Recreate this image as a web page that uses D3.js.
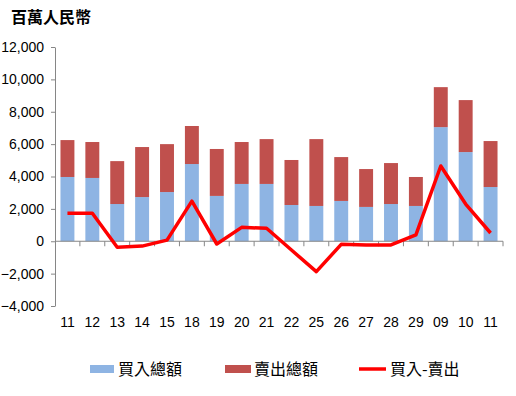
<!DOCTYPE html>
<html><head><meta charset="utf-8">
<script src="https://cdn.jsdelivr.net/npm/d3@7"></script>
<style>body{margin:0;background:#fff;}svg{display:block;}</style>
</head><body>
<svg id="c" width="516" height="396"></svg>
<script>
const categories = ["11","12","13","14","15","18","19","20","21","22","25","26","27","28","29","09","10","11"];
const buyTotal  = [3970,3910,2300,2730,3040,4770,2800,3540,3540,2240,2180,2490,2120,2300,2180,7050,5510,3350];
const sellTotal = [2280,2220,2650,3090,2960,2350,2900,2590,2770,2780,4130,2710,2340,2530,1790,2470,3210,2840];
const netFlow   = [1730,1730,-370,-300,70,2480,-170,860,800,-540,-1880,-190,-230,-230,390,4650,2300,510];
const yTicks = [-4000,-2000,0,2000,4000,6000,8000,10000,12000];
const seriesNames = ["買入總額","賣出總額","買入-賣出"];
const colors = ["#8EB4E3","#C0504D","#FF0000"];

const svg = d3.select("#c");
const pLeft = 55, pRight = 503, pTop = 47, pBottom = 306;
const idx = categories.map((d,i)=>i);
const x = d3.scaleBand().domain(idx).range([pLeft,pRight]).paddingInner(0.44).paddingOuter(0.22);
const y = d3.scaleLinear().domain([-4000,12000]).range([pBottom,pTop]);
const fmt = d3.format(",");
const axisColor = "#868686";
const numFont = "'Liberation Sans', Arial, sans-serif";
const cjk = "'Noto Sans CJK TC','Noto Sans CJK SC',sans-serif";

// title
svg.append("text").attr("x",11).attr("y",23).attr("font-family",cjk).attr("font-weight","bold")
  .attr("font-size",16).attr("fill","#000").text("百萬人民幣");

// bars
const g = svg.append("g");
g.selectAll("rect.buy").data(idx).join("rect").attr("class","buy")
  .attr("x",i=>x(i)).attr("width",x.bandwidth())
  .attr("y",i=>y(buyTotal[i])).attr("height",i=>y(0)-y(buyTotal[i]))
  .attr("fill",colors[0]);
g.selectAll("rect.sell").data(idx).join("rect").attr("class","sell")
  .attr("x",i=>x(i)).attr("width",x.bandwidth())
  .attr("y",i=>y(buyTotal[i]+sellTotal[i])).attr("height",i=>y(buyTotal[i])-y(buyTotal[i]+sellTotal[i]))
  .attr("fill",colors[1]);

// y axis
const ya = svg.append("g").attr("transform",`translate(${pLeft},0)`)
  .call(d3.axisLeft(y).tickValues(yTicks).tickFormat(fmt).tickSize(4).tickPadding(7).tickSizeOuter(0));
ya.select(".domain").attr("stroke",axisColor);
ya.selectAll(".tick line").attr("stroke",axisColor);
ya.selectAll("text").attr("font-family",numFont).attr("font-size",14).attr("fill","#000");

// zero x axis line with boundary ticks
const xa = svg.append("g");
xa.append("line").attr("x1",pLeft).attr("x2",pRight).attr("y1",y(0)).attr("y2",y(0)).attr("stroke",axisColor);
const bounds = d3.range(1, categories.length+1).map(k=>pLeft + (pRight-pLeft)*k/categories.length);
xa.selectAll("line.t").data(bounds).join("line").attr("class","t")
  .attr("x1",d=>d).attr("x2",d=>d).attr("y1",y(0)).attr("y2",y(0)+5).attr("stroke",axisColor);

// x labels
const xl = svg.append("g").attr("transform",`translate(0,${pBottom})`)
  .call(d3.axisBottom(x).tickFormat(i=>categories[i]).tickSize(0).tickPadding(11));
xl.select(".domain").remove();
xl.selectAll("text").attr("font-family",numFont).attr("font-size",14).attr("fill","#000");

// net line
const line = d3.line().x(i=>x(i)+x.bandwidth()/2).y(i=>y(netFlow[i]));
svg.append("path").datum(idx).attr("d",line).attr("fill","none")
  .attr("stroke",colors[2]).attr("stroke-width",3.5).attr("stroke-linejoin","round");

// legend
const lg = svg.append("g").attr("font-family",cjk).attr("font-size",16);
const ly = 369;
lg.append("rect").attr("x",90).attr("y",ly-4).attr("width",24).attr("height",8).attr("fill",colors[0]);
lg.append("text").attr("x",118).attr("y",ly+6).text(seriesNames[0]);
lg.append("rect").attr("x",225).attr("y",ly-4).attr("width",26).attr("height",8).attr("fill",colors[1]);
lg.append("text").attr("x",254).attr("y",ly+6).text(seriesNames[1]);
lg.append("line").attr("x1",359).attr("x2",386).attr("y1",ly).attr("y2",ly).attr("stroke",colors[2]).attr("stroke-width",3.5);
lg.append("text").attr("x",390).attr("y",ly+6).text(seriesNames[2]);
</script>
</body></html>
